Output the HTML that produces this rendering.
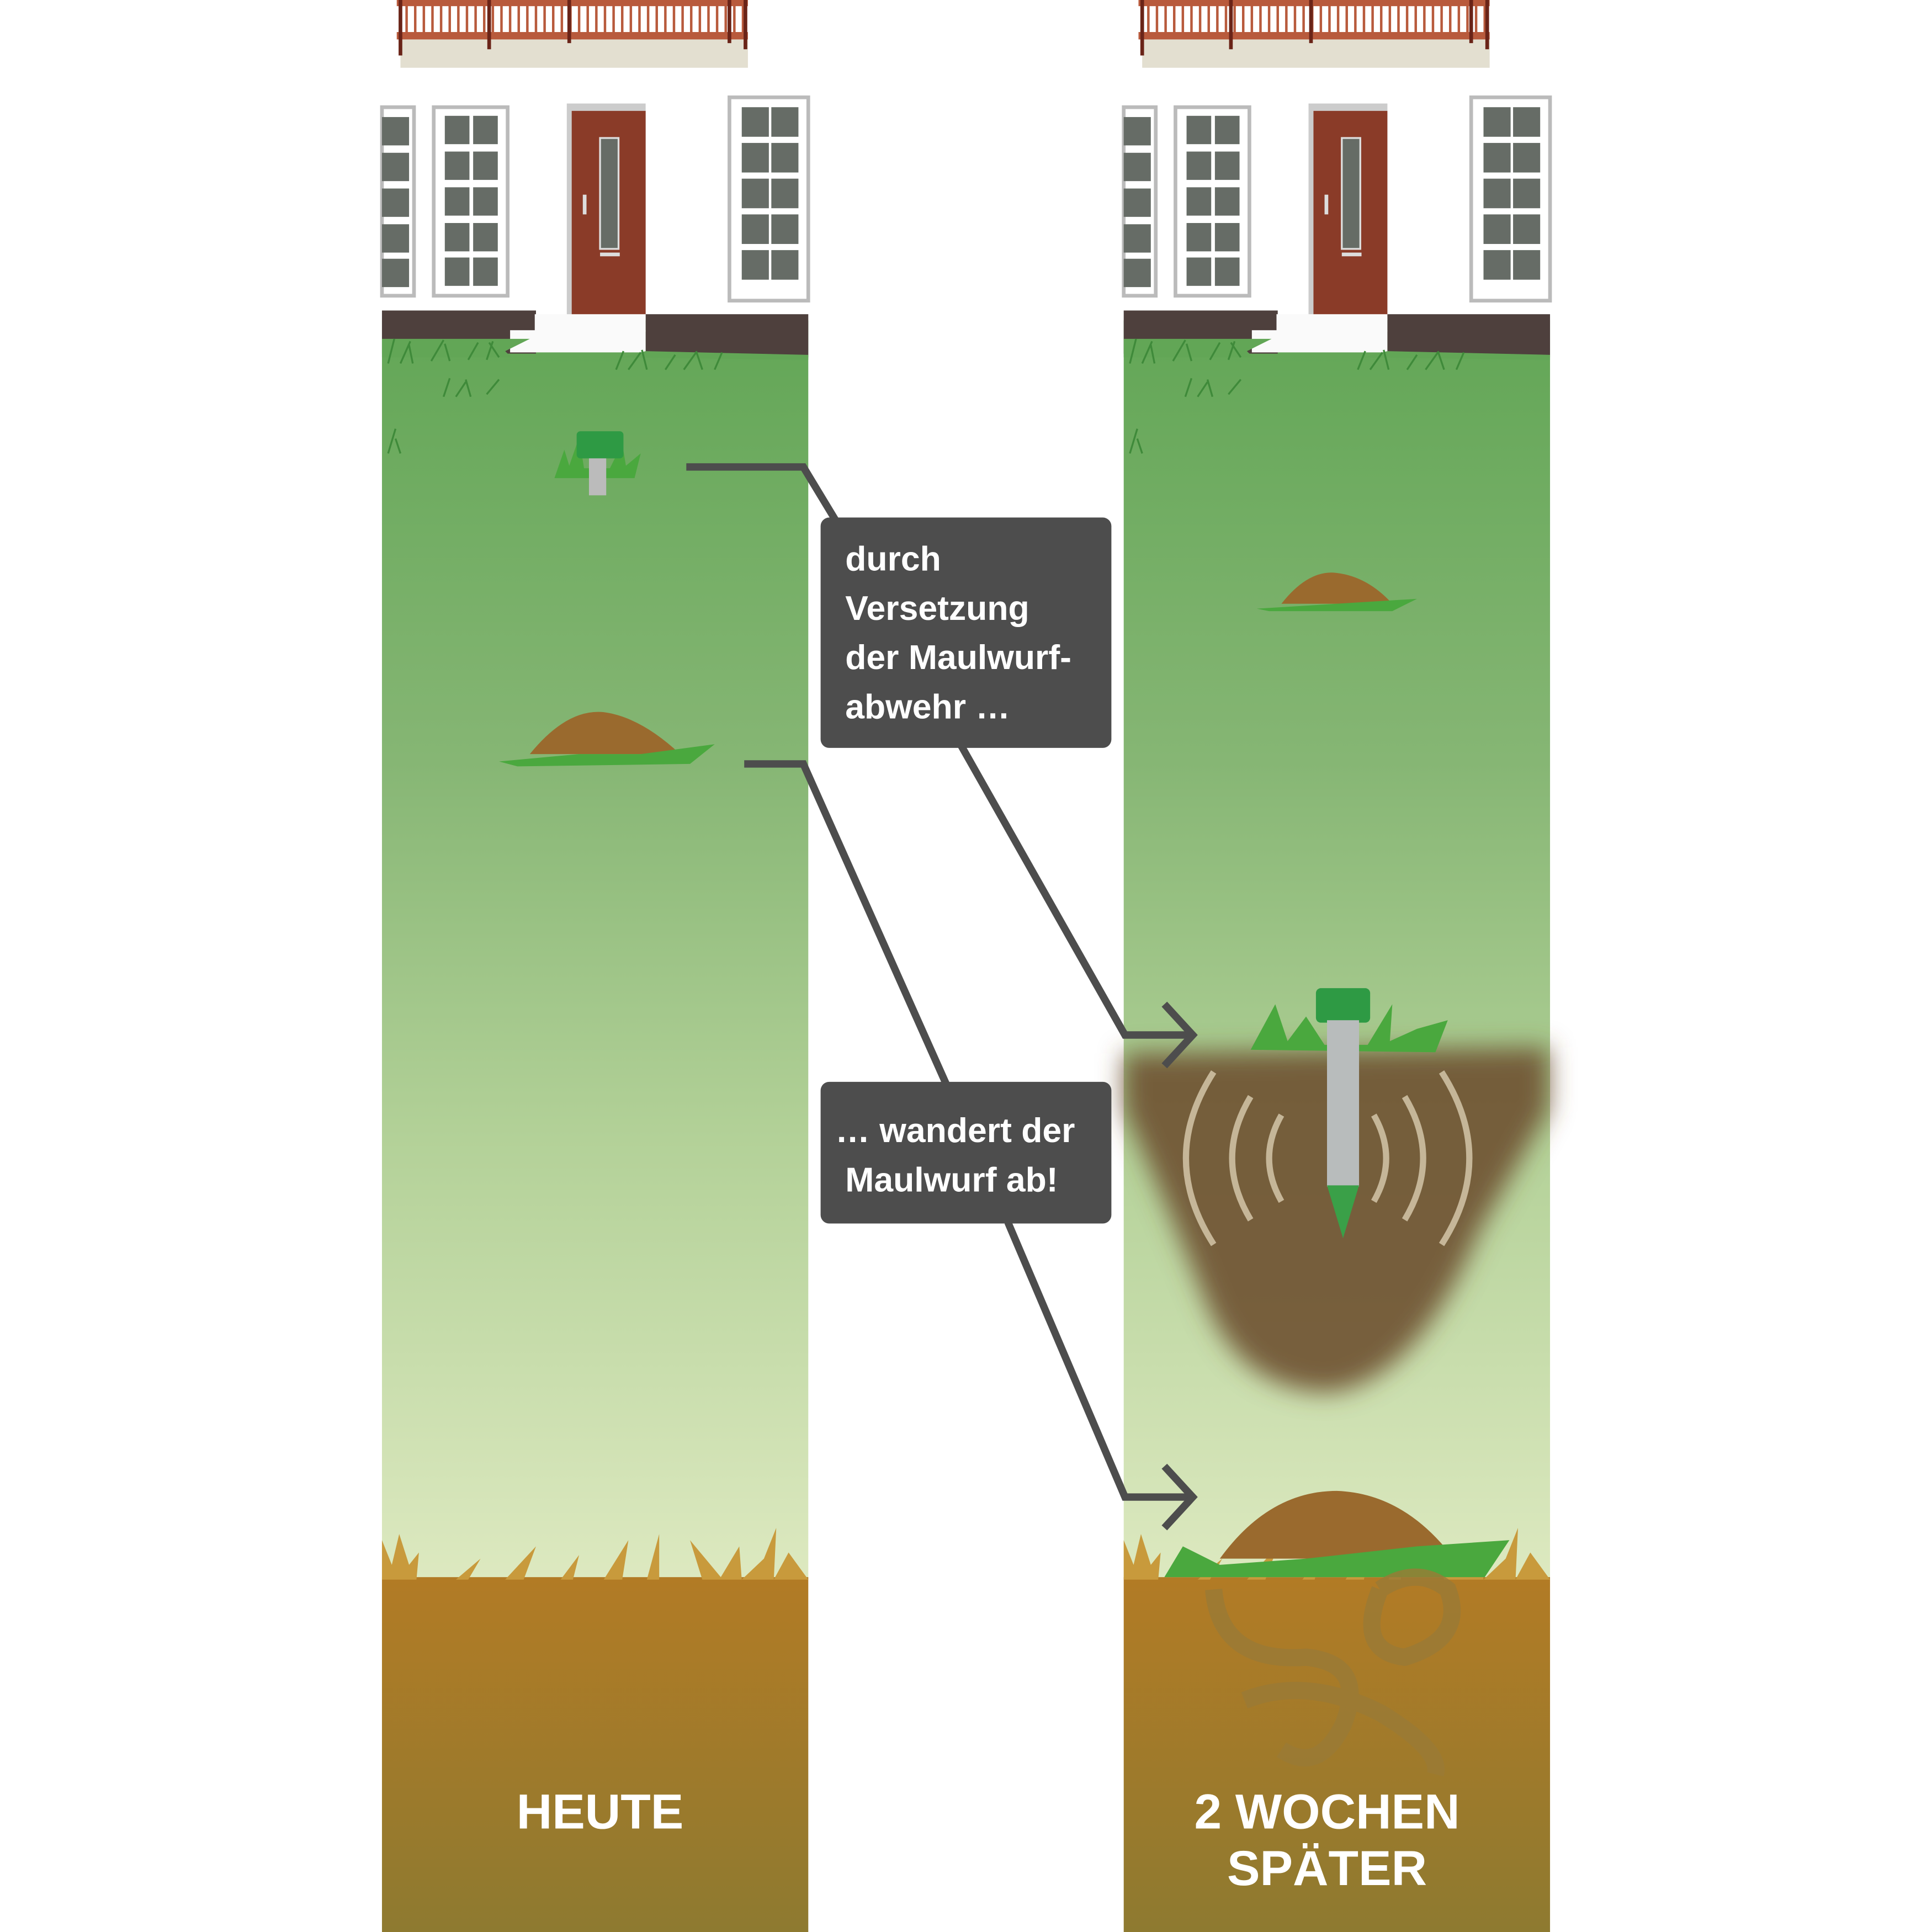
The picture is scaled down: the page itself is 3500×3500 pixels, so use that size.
<!DOCTYPE html>
<html><head><meta charset="utf-8"><style>
html,body{margin:0;padding:0;background:#fff;}
svg{display:block;}
text{font-family:"Liberation Sans",sans-serif;font-weight:bold;fill:#fff;}
</style></head><body>
<svg width="3500" height="3500" viewBox="0 0 1568 1568" xmlns="http://www.w3.org/2000/svg">
<defs>
<linearGradient id="g" x1="0" y1="0" x2="0" y2="1">
<stop offset="0" stop-color="#62a656"/>
<stop offset="0.35" stop-color="#86b674"/>
<stop offset="0.65" stop-color="#b3d198"/>
<stop offset="1" stop-color="#dde9c0"/>
</linearGradient>
<linearGradient id="s" x1="0" y1="0" x2="0" y2="1">
<stop offset="0" stop-color="#b27b25"/>
<stop offset="1" stop-color="#8e7a30"/>
</linearGradient>
<filter id="bl"><feGaussianBlur stdDeviation="10"/></filter>
<g id="panel">
<rect x="0" y="0" width="346" height="1568" fill="#fff"/>
<rect x="0" y="260" width="346" height="1022" fill="url(#g)"/>
<rect x="0" y="1280" width="346" height="288" fill="url(#s)"/>
<!-- balcony -->
<rect x="15" y="30" width="282" height="25" fill="#e3dfd0"/>
<rect x="12" y="0" width="285" height="5" fill="#b85a3c"/>
<rect x="12" y="26" width="285" height="6" fill="#b85a3c"/>
<g stroke="#b85a3c" stroke-width="2">
<path d="M20 0V28M27 0V28M34 0V28M41 0V28M48 0V28M55 0V28M62 0V28M69 0V28M76 0V28M83 0V28M90 0V28M97 0V28M104 0V28M111 0V28M118 0V28M125 0V28M132 0V28M139 0V28M146 0V28M153 0V28M160 0V28M167 0V28M174 0V28M181 0V28M188 0V28M195 0V28M202 0V28M209 0V28M216 0V28M223 0V28M230 0V28M237 0V28M244 0V28M251 0V28M258 0V28M265 0V28M272 0V28M279 0V28M286 0V28M293 0V28"/>
</g>
<g stroke="#6a2418" stroke-width="3"><path d="M15 0V45M87 0V40M152 0V35M282 0V35M295 0V40"/></g>
<!-- windows -->
<rect x="0" y="87" width="26" height="153" fill="#fff" stroke="#bbb" stroke-width="3"/>
<g fill="#666c66"><rect x="0" y="95" width="22" height="23"/><rect x="0" y="124" width="22" height="23"/><rect x="0" y="153" width="22" height="23"/><rect x="0" y="182" width="22" height="23"/><rect x="0" y="210" width="22" height="23"/></g>
<rect x="42" y="87" width="60" height="153" fill="#fff" stroke="#bbb" stroke-width="3"/>
<g fill="#666c66"><rect x="51" y="94" width="20" height="23"/><rect x="74" y="94" width="20" height="23"/><rect x="51" y="123" width="20" height="23"/><rect x="74" y="123" width="20" height="23"/><rect x="51" y="152" width="20" height="23"/><rect x="74" y="152" width="20" height="23"/><rect x="51" y="181" width="20" height="23"/><rect x="74" y="181" width="20" height="23"/><rect x="51" y="209" width="20" height="23"/><rect x="74" y="209" width="20" height="23"/></g>
<rect x="150" y="84" width="64" height="175" fill="#ccc"/>
<rect x="154" y="90" width="60" height="167" fill="#8a3b28"/>
<rect x="177" y="112" width="15" height="90" fill="#666c66" stroke="#ddd" stroke-width="1.5"/>
<rect x="177" y="205" width="16" height="3" fill="#ddd"/>
<rect x="163" y="158" width="3" height="16" fill="#ddd"/>
<rect x="282" y="79" width="64" height="165" fill="#fff" stroke="#bbb" stroke-width="3"/>
<g fill="#666c66"><rect x="292" y="87" width="22" height="24"/><rect x="316" y="87" width="22" height="24"/><rect x="292" y="116" width="22" height="24"/><rect x="316" y="116" width="22" height="24"/><rect x="292" y="145" width="22" height="24"/><rect x="316" y="145" width="22" height="24"/><rect x="292" y="174" width="22" height="24"/><rect x="316" y="174" width="22" height="24"/><rect x="292" y="203" width="22" height="24"/><rect x="316" y="203" width="22" height="24"/></g>
<rect x="0" y="252" width="125" height="35" fill="#4e403d"/>
<rect x="214" y="255" width="132" height="35" fill="#4e403d"/>
<rect x="124" y="255" width="90" height="14" fill="#fafafa"/>
<rect x="104" y="268" width="110" height="18" fill="#fafafa"/>
<path d="M0 275 L120 275 L100 285 L105 290 L0 290Z M195 290 L346 292 L346 288 L214 285Z" fill="#62a656"/>
<g stroke="#3f8a3a" stroke-width="1.5" fill="none">
<path d="M5 295 l5 -20 M15 295 l8 -18 M25 295 l-3 -15 M40 293 l10 -17 M55 293 l-4 -14 M70 292 l8 -14 M85 292 l5 -15 M95 290 l-8 -12 M190 300 l6 -15 M200 300 l10 -14 M215 300 l-4 -16 M230 300 l8 -12 M245 300 l10 -14 M260 300 l-5 -15 M270 300 l6 -14 M50 322 l5 -15 M60 322 l8 -12 M72 322 l-4 -14 M85 320 l10 -12 M5 368 l6 -20 M15 368 l-4 -12"/>
</g>
<path d="M0 1282 L0 1250 L8 1270 L14 1245 L22 1270 L30 1260 L28 1282 L60 1282 L80 1265 L70 1282 L100 1282 L125 1255 L115 1282 L145 1282 L160 1262 L155 1282 L180 1282 L200 1250 L195 1282 L215 1282 L225 1245 L225 1282 L260 1282 L250 1250 L275 1280 L290 1255 L292 1282 L310 1265 L320 1240 L318 1282 L330 1260 L346 1282Z" fill="#c89a3c"/>
</g>
</defs>

<use href="#panel" x="310" y="0"/>
<use href="#panel" x="912" y="0"/>

<!-- left device -->
<path d="M450 388 L458 365 L462 378 L470 355 L474 380 L495 380 L505 360 L508 378 L520 368 L515 388Z" fill="#4aa83e"/>
<rect x="468" y="350" width="38" height="22" rx="3" fill="#2e9a44"/>
<rect x="478" y="372" width="14" height="30" fill="#bbb"/>
<!-- left molehill -->
<path d="M430 612 Q460 575 490 578 Q520 582 552 612Z" fill="#9a6a2e"/>
<path d="M405 618 L470 612 L520 612 L580 604 L560 620 L420 622Z" fill="#4aa83e"/>
<!-- right small molehill -->
<path d="M1040 490 Q1062 462 1085 465 Q1110 468 1130 490Z" fill="#9a6a2e"/>
<path d="M1020 494 L1150 486 L1130 496 L1030 496Z" fill="#4aa83e"/>

<!-- right blurry cone -->
<g filter="url(#bl)">
<path d="M912 855 L1257 850 L1257 900 L1200 1000 Q1150 1120 1080 1130 Q1010 1130 980 1060 Q940 960 912 900Z" fill="#6e5130" opacity="0.9"/>
</g>
<g fill="none" stroke="#e8dcc0" stroke-width="5" opacity="0.7">
<path d="M985 870 Q940 940 985 1010"/><path d="M1015 890 Q985 940 1015 990"/><path d="M1040 905 Q1020 940 1040 975"/>
<path d="M1170 870 Q1215 940 1170 1010"/><path d="M1140 890 Q1170 940 1140 990"/><path d="M1115 905 Q1135 940 1115 975"/>
</g>
<!-- right device -->
<path d="M1015 852 L1035 815 L1045 845 L1060 825 L1075 848 L1110 848 L1130 815 L1128 845 L1150 835 L1175 828 L1165 854Z" fill="#4aa83e"/>
<rect x="1068" y="802" width="44" height="28" rx="4" fill="#2e9a44"/>
<rect x="1077" y="828" width="26" height="135" fill="#b8bcbc"/>
<path d="M1077 962 L1103 962 L1090 1005Z" fill="#3aa048"/>
<!-- right big molehill -->
<path d="M990 1265 Q1030 1210 1085 1210 Q1140 1212 1180 1265Z" fill="#9a6a2e"/>
<path d="M945 1280 L960 1255 L990 1270 L1060 1265 L1150 1255 L1225 1250 L1205 1280Z" fill="#4aa83e"/>
<!-- tunnels -->
<g fill="none" stroke="#9a7a36" stroke-width="14" opacity="0.8">
<path d="M985 1290 Q990 1350 1060 1345 Q1110 1350 1090 1400 Q1070 1440 1040 1420"/>
<path d="M1120 1290 Q1100 1340 1140 1345 Q1190 1330 1175 1290 Q1150 1270 1120 1290"/>
<path d="M1010 1380 Q1060 1360 1120 1390 Q1170 1420 1165 1440"/>
</g>

<!-- connectors -->
<g fill="none" stroke="#4d4d4d" stroke-width="6">
<path d="M557 379 L652 379 L678 422"/>
<path d="M604 620 L652 620 L768 880"/>
<path d="M780 605 L913 840 L968 840"/>
<path d="M945 815 L968 840 L945 865"/>
<path d="M818 992 L913 1215 L968 1215"/>
<path d="M945 1190 L968 1215 L945 1240"/>
</g>
<rect x="666" y="420" width="236" height="187" rx="7" fill="#4d4d4d"/>
<rect x="666" y="878" width="236" height="115" rx="7" fill="#4d4d4d"/>
<g font-size="28">
<text x="686" y="463">durch</text>
<text x="686" y="503">Versetzung</text>
<text x="686" y="543">der Maulwurf-</text>
<text x="686" y="583">abwehr …</text>
<text x="678" y="927">… wandert der</text>
<text x="686" y="967">Maulwurf ab!</text>
</g>
<g font-size="40" text-anchor="middle">
<text x="487" y="1484">HEUTE</text>
<text x="1077" y="1484">2 WOCHEN</text>
<text x="1077" y="1530">SPÄTER</text>
</g>
</svg>
</body></html>
